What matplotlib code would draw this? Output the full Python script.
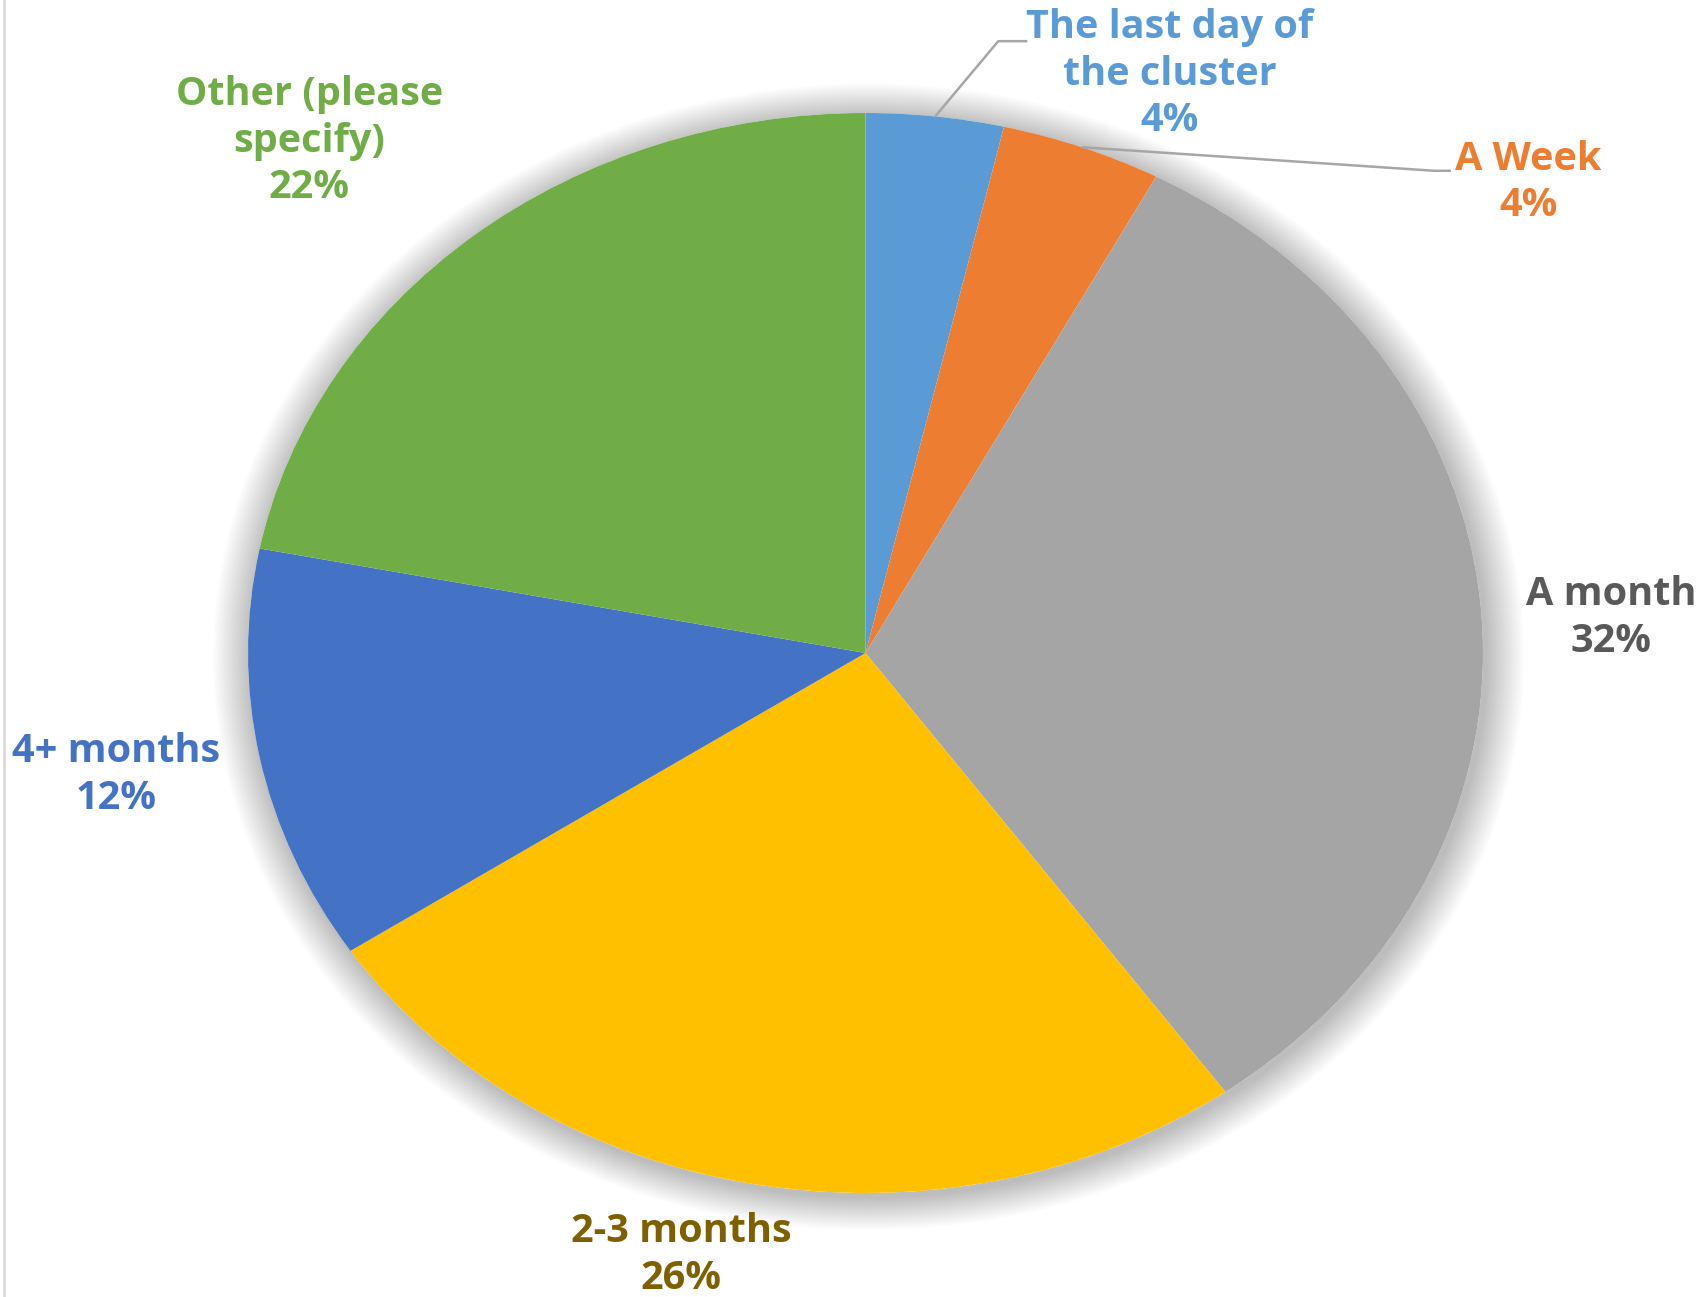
import numpy as np
import matplotlib
matplotlib.use('Agg')
import matplotlib.pyplot as plt
from matplotlib.patches import Circle

# share of answers (labels show the rounded values)
categories = ['The last day of\nthe cluster', 'A Week', 'A month', '2-3 months', '4+ months', 'Other (please\nspecify)']
shares = [3.6, 4.2, 32.3, 25.6, 12.4, 21.9]
pct_labels = ['4%', '4%', '32%', '26%', '12%', '22%']

slice_colors = ['#5B9BD5', '#ED7D31', '#A5A5A5', '#FFC000', '#4472C4', '#70AD47']
text_colors = ['#5B9BD5', '#ED7D31', '#595959', '#7F6000', '#4472C4', '#70AD47']

# label centres in data units (pie radius = 1)
label_pos = [(0.493, 1.072), (1.073, 0.872), (1.207, 0.065),
             (-0.299, -1.115), (-1.214, -0.226), (-0.901, 0.948)]

fig = plt.figure(figsize=(17.04, 12.97), dpi=100)
ax = fig.add_axes([0, 0, 1, 1])

# soft shadow round the pie
for k in range(22):
    r = 1.0 + 0.0028 * (k + 1)
    ax.add_patch(Circle((0.005, -0.007), r, facecolor='#000000', alpha=0.011,
                        edgecolor='none', zorder=0))
ax.add_patch(Circle((0, 0), 1.0, facecolor='white', edgecolor='none', zorder=0.5))

wedges, _ = ax.pie(shares, colors=slice_colors, startangle=90, counterclock=False,
                   radius=1, wedgeprops=dict(linewidth=0, zorder=1))

ax.set_aspect('auto')
ax.set_xlim(-865.5 / 617.5, (1704 - 865.5) / 617.5)
ax.set_ylim((653 - 1297) / 540, 653 / 540)
ax.axis('off')

for i, (name, pct) in enumerate(zip(categories, pct_labels)):
    x, y = label_pos[i]
    ax.text(x, y, name + '\n' + pct, ha='center', va='center', color=text_colors[i],
            fontsize=28.5, fontweight='bold', family=['Open Sans', 'DejaVu Sans'],
            linespacing=1.24, zorder=5)

# leader lines for the two small slices
cum = np.cumsum([0] + shares)
for i, bend, end in [(0, (0.215, 1.133), (0.262, 1.133)),
                     (1, (0.921, 0.893), (0.948, 0.893))]:
    mid = (cum[i] + cum[i + 1]) / 2 / 100 * 2 * np.pi
    sx, sy = np.sin(mid), np.cos(mid)
    ax.plot([sx, bend[0], end[0]], [sy, bend[1], end[1]], color='#A6A6A6',
            lw=1.8, zorder=4, solid_capstyle='butt')

# faint frame line on the left edge
fig.add_artist(plt.Line2D([0.0025, 0.0025], [0, 1], color='#D9D9D9', lw=2))

fig.savefig('out.png', dpi=100, facecolor='white')
